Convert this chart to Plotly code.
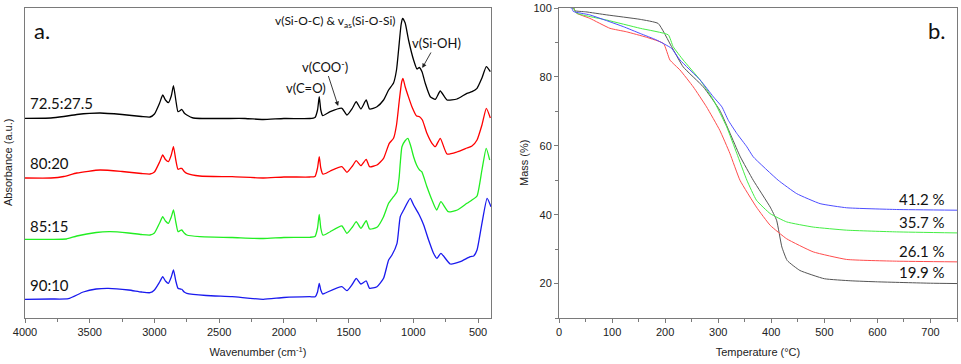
import plotly.graph_objects as go

# ---------------- FTIR data (a.) ----------------
# wavenumber (cm-1) and stacked absorbance (a.u., display offsets included)
WN_BLACK = [4000, 3800, 3700, 3600, 3420, 3250, 3100, 3034, 3000, 2960, 2936, 2915, 2892, 2870, 2853, 2835, 2818, 2800, 2789, 2770, 2750, 2700, 2500, 2300, 2160, 2000, 1800, 1760, 1740, 1727, 1715, 1700, 1642, 1552, 1513, 1470, 1441, 1405, 1364, 1338, 1281, 1230, 1191, 1153, 1130, 1114, 1095, 1083, 1063, 1037, 998, 972, 954, 933, 908, 869, 830, 792, 740, 663, 586, 547, 508, 470, 436, 405]
AB_BLACK = [199.7, 200, 201.5, 203.5, 205, 203.5, 201.5, 201, 204, 215, 223, 218, 215.3, 222, 232.3, 218, 206.3, 207.5, 208.7, 205, 203, 200, 199.5, 199.5, 198.5, 199.5, 199.5, 200.5, 208, 221.3, 208, 202.3, 206.3, 209.7, 203, 210, 216.3, 209, 218, 209, 211.3, 218, 228, 235, 248, 268, 293, 299.7, 295, 278, 258, 249, 250.5, 246.3, 234.7, 221.3, 218.7, 227, 218, 219, 224.7, 226.3, 229.7, 240, 251.3, 246.3]

WN_RED = [4000, 3800, 3700, 3600, 3420, 3250, 3100, 3034, 3000, 2960, 2936, 2915, 2892, 2870, 2853, 2835, 2818, 2800, 2789, 2770, 2750, 2650, 2400, 2160, 2000, 1800, 1760, 1740, 1727, 1715, 1700, 1680, 1642, 1552, 1513, 1470, 1441, 1405, 1364, 1338, 1281, 1230, 1186, 1153, 1130, 1108, 1090, 1080, 1063, 1040, 1011, 975, 952, 930, 895, 856, 830, 792, 740, 663, 586, 547, 508, 470, 436, 405]
AB_RED = [140, 140, 141.5, 145, 148, 146.5, 144.5, 144, 146, 156, 163, 158.5, 156.3, 163, 171.3, 158, 148.7, 149.5, 149.7, 146.5, 144.7, 142, 141.3, 140, 141, 141, 141.5, 150, 161.3, 150, 144, 144.5, 147, 151.3, 145.7, 152, 157.3, 152.3, 158.7, 151.3, 153, 159.7, 174.7, 179.7, 193, 218, 236, 239.7, 231.3, 222, 211.3, 202, 201.3, 198, 184.7, 174.7, 171.3, 179.7, 164, 166, 170, 172, 178, 193, 209.7, 200]

WN_GREEN = [4000, 3800, 3680, 3600, 3450, 3343, 3200, 3100, 3034, 3000, 2960, 2936, 2915, 2892, 2870, 2853, 2835, 2818, 2800, 2789, 2770, 2750, 2650, 2400, 2160, 2000, 1800, 1760, 1740, 1727, 1715, 1700, 1680, 1642, 1552, 1513, 1470, 1441, 1405, 1364, 1338, 1281, 1230, 1191, 1153, 1126, 1110, 1101, 1088, 1065, 1042, 1020, 998, 975, 952, 935, 895, 856, 820, 787, 730, 660, 586, 547, 508, 470, 437, 410]
AB_GREEN = [78.7, 78.7, 79, 82, 85.5, 86.3, 85, 83.5, 83, 85, 95, 101.3, 97, 94.7, 101, 108, 96, 86.3, 87.5, 88, 85, 83, 81.3, 80.5, 79.5, 80.5, 80.7, 81.5, 90, 103.7, 90, 83, 83.5, 86.3, 92, 84.7, 91, 96.3, 89.7, 97.3, 89, 90.7, 101.3, 114.7, 121.3, 126.3, 140, 154.7, 171.3, 177, 179.7, 172, 161.3, 153, 148, 146.3, 131.3, 118, 108, 116.3, 106.3, 108, 114.7, 118, 122, 148, 169.7, 158]

WN_BLUE = [4000, 3800, 3665, 3550, 3450, 3356, 3200, 3100, 3034, 3000, 2960, 2936, 2915, 2892, 2870, 2853, 2835, 2818, 2800, 2789, 2770, 2750, 2600, 2400, 2160, 2000, 1800, 1758, 1740, 1727, 1715, 1700, 1680, 1552, 1513, 1470, 1441, 1405, 1364, 1338, 1281, 1230, 1191, 1165, 1126, 1101, 1075, 1024, 998, 954, 920, 882, 844, 818, 787, 715, 637, 560, 534, 508, 470, 430, 400]
AB_BLUE = [18.7, 19, 19.3, 26, 29, 29.7, 28, 26, 25.3, 28, 36, 41.3, 37, 34.7, 41, 48, 37, 29.7, 29, 28.7, 26, 24.7, 22.5, 21.3, 18.7, 20.5, 21.3, 21.3, 26, 34.7, 28, 24, 25, 31.3, 27.3, 34, 39.7, 34, 37, 29.7, 31.3, 39.7, 58, 63, 74.7, 101.3, 108, 119.7, 113, 103, 93, 78, 64.7, 59.7, 64.7, 54, 56.3, 61.3, 62, 68, 94.7, 119.7, 111.3]

FTIR_LABELS = ["72.5:27.5", "80:20", "85:15", "90:10"]
FTIR_LABEL_Y = [215, 155, 92, 33]

# ---------------- TGA data (b.) ----------------
T_BLACK = [25, 28, 30, 50, 90, 153, 187, 212, 234, 272, 303, 341, 366, 398, 410, 420, 430, 454, 500, 550, 600, 700, 750]
M_BLACK = [100, 100, 99.2, 98.9, 98.0, 96.7, 95.5, 88.8, 82.9, 77.1, 70.3, 57.0, 50.0, 42.2, 38.4, 30.6, 26.7, 23.8, 21.4, 20.8, 20.5, 20.1, 20.0]

T_RED = [25, 27, 33, 58, 96, 127, 165, 197, 209, 228, 253, 278, 303, 322, 341, 372, 398, 429, 479, 542, 636, 750]
M_RED = [100, 100, 98.5, 97.0, 94.1, 93.1, 91.5, 89.7, 84.9, 82.0, 77.1, 71.3, 64.5, 57.8, 50.0, 42.2, 36.9, 33.0, 29.2, 27.0, 26.5, 26.3]

T_GREEN = [25, 27, 33, 90, 153, 206, 215, 234, 266, 291, 316, 335, 354, 372, 398, 429, 479, 542, 636, 750]
M_GREEN = [100, 100, 98.5, 96.5, 94.1, 92.2, 88.8, 84.9, 79.1, 73.3, 65.5, 57.8, 50.0, 44.2, 40.3, 37.9, 36.4, 35.5, 35.0, 34.7]

T_BLUE = [22, 24, 27, 58, 121, 153, 184, 212, 228, 266, 291, 307, 319, 335, 354, 366, 413, 448, 492, 542, 636, 750]
M_BLUE = [100, 100, 99.0, 98.0, 94.6, 92.6, 90.7, 88.3, 84.9, 79.1, 74.2, 71.3, 67.4, 63.6, 59.7, 56.8, 50.0, 46.1, 43.2, 42.0, 41.5, 41.3]

RESIDUE_LABELS = ["41.2 %", "35.7 %", "26.1 %", "19.9 %"]
RESIDUE_Y = [44.5, 37.8, 29.4, 23.3]

FTIR_COLORS = ["#000000", "#ff0000", "#22ee22", "#1a1aee"]
TGA_COLORS = ["#555555", "#ff4d4d", "#44ee44", "#4d4dff"]

TICK_FONT = dict(family="Liberation Sans, Arial", size=11, color="#222222")
LABEL_FONT = "Lato, Open Sans, sans-serif"
AXIS_COLOR = "#7a7a7a"

fig = go.Figure()

ftir = [(WN_BLACK, AB_BLACK), (WN_RED, AB_RED), (WN_GREEN, AB_GREEN), (WN_BLUE, AB_BLUE)]
for (wn, ab), c, name in zip(ftir, FTIR_COLORS, FTIR_LABELS):
    fig.add_trace(go.Scatter(x=wn, y=ab, mode="lines", name=name,
                             line=dict(color=c, width=1.3, shape="spline", smoothing=0.5),
                             xaxis="x", yaxis="y", showlegend=False))

tga = [(T_BLACK, M_BLACK), (T_RED, M_RED), (T_GREEN, M_GREEN), (T_BLUE, M_BLUE)]
for (t, m), c, name in zip(tga, TGA_COLORS, FTIR_LABELS):
    fig.add_trace(go.Scatter(x=t, y=m, mode="lines", name=name,
                             line=dict(color=c, width=1.0, shape="spline", smoothing=0.4),
                             xaxis="x2", yaxis="y2", showlegend=False))

W, H = 961, 364
axis_common = dict(showline=True, linecolor=AXIS_COLOR, linewidth=1, mirror=True,
                   showgrid=False, zeroline=False, tickfont=TICK_FONT, automargin=False)
title_font = dict(family="Liberation Sans, Arial", size=11, color="#222")

fig.update_layout(
    width=W, height=H,
    margin=dict(l=0, r=0, t=8, b=46, autoexpand=False),
    paper_bgcolor="white", plot_bgcolor="white",
    xaxis=dict(domain=[25 / W, 491 / W], range=[4000, 400], anchor="y",
               ticks="outside", ticklen=4, tickcolor=AXIS_COLOR, dtick=500, tick0=0,
               minor=dict(ticks="outside", ticklen=3, tickcolor=AXIS_COLOR, dtick=250),
               title=dict(text="Wavenumber (cm<sup>-1</sup>)", font=title_font, standoff=11),
               **axis_common),
    yaxis=dict(domain=[0, 1], range=[0, 310], anchor="x", showticklabels=False, ticks="",
               **axis_common),
    xaxis2=dict(domain=[559 / W, 957 / W], range=[0, 750], anchor="y2",
                ticks="outside", ticklen=4, tickcolor=AXIS_COLOR, dtick=100, tick0=0,
                minor=dict(ticks="outside", ticklen=3, tickcolor=AXIS_COLOR, dtick=50),
                title=dict(text="Temperature (°C)", font=title_font, standoff=11),
                **axis_common),
    yaxis2=dict(domain=[0, 1], range=[10, 100], anchor="x2",
                ticks="outside", ticklen=4, tickcolor=AXIS_COLOR,
                tickvals=[20, 40, 60, 80, 100],
                minor=dict(ticks="outside", ticklen=3, tickcolor=AXIS_COLOR, tickvals=[10, 30, 50, 70, 90]),
                **axis_common),
)

ann = []
# y-axis titles
ann.append(dict(text="Absorbance (a.u.)", xref="paper", yref="paper", x=8 / W, y=0.5,
                textangle=-90, showarrow=False, xanchor="center", yanchor="middle",
                font=title_font))
ann.append(dict(text="Mass (%)", xref="paper", yref="paper", x=524 / W, y=0.5,
                textangle=-90, showarrow=False, xanchor="center", yanchor="middle",
                font=title_font))
# panel letters
ann.append(dict(text="a.", x=3946, y=288, xref="x", yref="y", showarrow=False, xanchor="left",
                yanchor="middle", font=dict(family=LABEL_FONT, size=22, color="#111")))
ann.append(dict(text="b.", x=733, y=93.6, xref="x2", yref="y2", showarrow=False, xanchor="right",
                yanchor="middle", font=dict(family=LABEL_FONT, size=22, color="#111")))
# sample labels
for lab, yv in zip(FTIR_LABELS, FTIR_LABEL_Y):
    ann.append(dict(text=lab, x=3977, y=yv, xref="x", yref="y", showarrow=False, xanchor="left",
                    yanchor="middle", font=dict(family=LABEL_FONT, size=15, color="#111")))
# band assignments
band_font = dict(family=LABEL_FONT, size=13, color="#111")
ann.append(dict(text="v(C=O)", x=1828, y=230, xref="x", yref="y", showarrow=False, font=band_font))
ann.append(dict(text="v(COO<sup>-</sup>)", x=1581, y=212, xref="x", yref="y", showarrow=True,
                ax=-13, ay=-40, xanchor="center", yanchor="middle",
                arrowhead=2, arrowsize=1, arrowwidth=0.9, arrowcolor="#222", font=band_font))
ann.append(dict(text="v(Si-O-C) & v<sub>as</sub>(Si-O-Si)", x=1124, y=297, xref="x", yref="y",
                showarrow=False, xanchor="right",
                font=dict(family=LABEL_FONT, size=12, color="#111")))
ann.append(dict(text="v(Si-OH)", x=931, y=250, xref="x", yref="y", showarrow=True,
                ax=14, ay=-25, xanchor="center", yanchor="middle",
                arrowhead=2, arrowsize=1, arrowwidth=0.9, arrowcolor="#222", font=band_font))
# residue labels
for lab, yv in zip(RESIDUE_LABELS, RESIDUE_Y):
    ann.append(dict(text=lab, x=731, y=yv, xref="x2", yref="y2", showarrow=False, xanchor="right",
                    yanchor="middle", font=dict(family=LABEL_FONT, size=15, color="#111")))

fig.update_layout(annotations=ann)

fig.write_html("out.html", config={"displayModeBar": False},
               post_script="document.body.style.margin='0';document.body.style.overflow='hidden';")
